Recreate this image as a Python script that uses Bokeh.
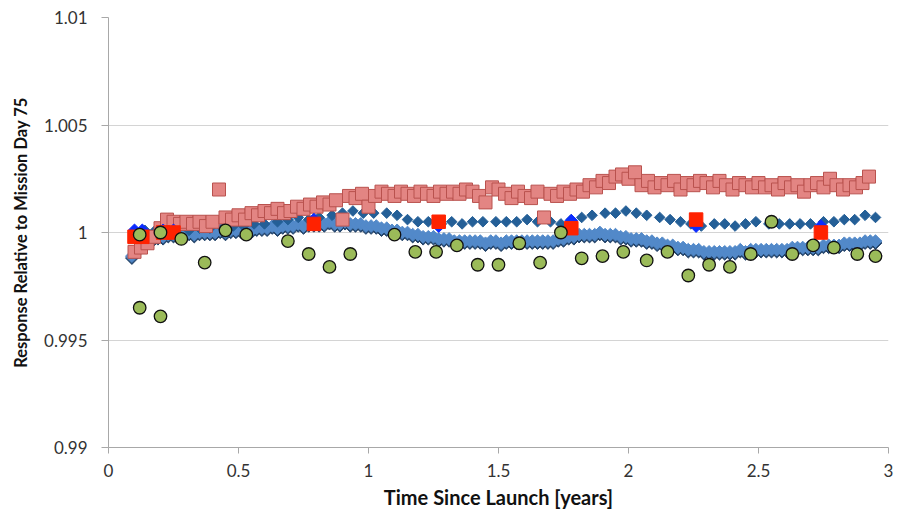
import math
from bokeh.plotting import figure
from bokeh.models import FixedTicker, Range1d
from bokeh.embed import file_html
from bokeh.resources import INLINE

# ---------------- data ----------------
x_ticks = [0, 0.5, 1, 1.5, 2, 2.5, 3]
x_tick_labels = ["0", "0.5", "1", "1.5", "2", "2.5", "3"]
y_ticks = [0.99, 0.995, 1.0, 1.005, 1.01]
y_tick_labels = ["0.99", "0.995", "1", "1.005", "1.01"]

# dense light-blue band
band_x = [0.09, 0.11, 0.13, 0.15, 0.17, 0.19, 0.21, 0.23, 0.25, 0.27, 0.29, 0.31, 0.33, 0.35, 0.37, 0.39,
          0.41, 0.43, 0.45, 0.47, 0.49, 0.51, 0.53, 0.55, 0.57, 0.59, 0.61, 0.63, 0.65, 0.67, 0.69, 0.71,
          0.73, 0.75, 0.77, 0.79, 0.81, 0.83, 0.85, 0.87, 0.89, 0.91, 0.93, 0.95, 0.97, 0.99, 1.01, 1.03,
          1.05, 1.07, 1.09, 1.11, 1.13, 1.15, 1.17, 1.19, 1.21, 1.23, 1.25, 1.27, 1.29, 1.31, 1.33, 1.35,
          1.37, 1.39, 1.41, 1.43, 1.45, 1.47, 1.49, 1.51, 1.53, 1.55, 1.57, 1.59, 1.61, 1.63, 1.65, 1.67,
          1.69, 1.71, 1.73, 1.75, 1.77, 1.79, 1.81, 1.83, 1.85, 1.87, 1.89, 1.91, 1.93, 1.95, 1.97, 1.99,
          2.01, 2.03, 2.05, 2.07, 2.09, 2.11, 2.13, 2.15, 2.17, 2.19, 2.21, 2.23, 2.25, 2.27, 2.29, 2.31,
          2.33, 2.35, 2.37, 2.39, 2.41, 2.43, 2.45, 2.47, 2.49, 2.51, 2.53, 2.55, 2.57, 2.59, 2.61, 2.63,
          2.65, 2.67, 2.69, 2.71, 2.73, 2.75, 2.77, 2.79, 2.81, 2.83, 2.85, 2.87, 2.89, 2.91, 2.93, 2.95]
band_y = [0.9989, 0.9992, 0.9995, 0.9996, 0.9997, 0.9998, 0.9998, 0.9999, 0.9999, 0.9999, 0.9999, 1.0000,
          0.9999, 1.0000, 1.0000, 1.0000, 1.0000, 1.0001, 1.0000, 1.0001, 1.0001, 1.0001, 1.0002, 1.0001,
          1.0002, 1.0002, 1.0002, 1.0003, 1.0002, 1.0003, 1.0003, 1.0003, 1.0004, 1.0003, 1.0004, 1.0004,
          1.0004, 1.0004, 1.0005, 1.0004, 1.0004, 1.0005, 1.0004, 1.0004, 1.0004, 1.0003, 1.0003, 1.0003,
          1.0002, 1.0002, 1.0001, 1.0001, 1.0000, 1.0000, 0.9999, 0.9999, 0.9998, 0.9998, 0.9998, 0.9997,
          0.9997, 0.9997, 0.9996, 0.9996, 0.9996, 0.9996, 0.9996, 0.9996, 0.9995, 0.9996, 0.9996, 0.9995,
          0.9996, 0.9996, 0.9996, 0.9996, 0.9996, 0.9996, 0.9996, 0.9996, 0.9996, 0.9996, 0.9997, 0.9997,
          0.9998, 0.9998, 0.9999, 0.9999, 0.9999, 0.9999, 1.0000, 0.9999, 0.9999, 0.9999, 0.9998, 0.9998,
          0.9997, 0.9997, 0.9997, 0.9996, 0.9996, 0.9995, 0.9995, 0.9994, 0.9994, 0.9993, 0.9993, 0.9992,
          0.9992, 0.9992, 0.9991, 0.9991, 0.9991, 0.9991, 0.9991, 0.9991, 0.9991, 0.9992, 0.9991, 0.9992,
          0.9992, 0.9992, 0.9992, 0.9992, 0.9992, 0.9992, 0.9992, 0.9993, 0.9993, 0.9993, 0.9993, 0.9993,
          0.9993, 0.9994, 0.9994, 0.9994, 0.9994, 0.9995, 0.9995, 0.9995, 0.9995, 0.9996, 0.9996, 0.9996,
          0.9997]

# dark-blue diamonds
dark_x = [0.10, 0.14, 0.18, 0.23, 0.27, 0.31, 0.35, 0.39, 0.44, 0.48, 0.52, 0.56, 0.60, 0.65, 0.69, 0.73,
          0.77, 0.81, 0.86, 0.90, 0.94, 0.98, 1.02, 1.07, 1.11, 1.15, 1.19, 1.23, 1.28, 1.32, 1.36, 1.40,
          1.44, 1.49, 1.53, 1.57, 1.61, 1.65, 1.70, 1.74, 1.78, 1.82, 1.86, 1.91, 1.95, 1.99, 2.03, 2.07,
          2.12, 2.16, 2.20, 2.24, 2.28, 2.33, 2.37, 2.41, 2.45, 2.49, 2.54, 2.58, 2.62, 2.66, 2.70, 2.75,
          2.79, 2.83, 2.87, 2.91, 2.95]
dark_y = [1.0000, 1.0001, 1.0001, 1.0001, 1.0002, 1.0001, 1.0002, 1.0002, 1.0002, 1.0003, 1.0003, 1.0004,
          1.0004, 1.0005, 1.0006, 1.0007, 1.0006, 1.0007, 1.0008, 1.0009, 1.0010, 1.0009, 1.0009, 1.0009,
          1.0008, 1.0006, 1.0005, 1.0005, 1.0004, 1.0005, 1.0004, 1.0005, 1.0005, 1.0005, 1.0005, 1.0005,
          1.0006, 1.0005, 1.0005, 1.0004, 1.0006, 1.0007, 1.0008, 1.0009, 1.0009, 1.0010, 1.0009, 1.0008,
          1.0007, 1.0006, 1.0005, 1.0004, 1.0003, 1.0004, 1.0004, 1.0003, 1.0004, 1.0005, 1.0004, 1.0004,
          1.0004, 1.0004, 1.0004, 1.0005, 1.0005, 1.0006, 1.0006, 1.0008, 1.0007]

# pink squares
pink_x = [0.100, 0.125, 0.150, 0.175, 0.200, 0.225, 0.250, 0.275, 0.300, 0.325, 0.350, 0.375, 0.400, 0.425,
          0.450, 0.475, 0.500, 0.525, 0.550, 0.575, 0.600, 0.625, 0.650, 0.675, 0.700, 0.725, 0.750, 0.775,
          0.800, 0.825, 0.850, 0.875, 0.900, 0.925, 0.950, 0.975, 1.000, 1.025, 1.050, 1.075, 1.100, 1.125,
          1.150, 1.175, 1.200, 1.225, 1.250, 1.275, 1.300, 1.325, 1.350, 1.375, 1.400, 1.425, 1.450, 1.475,
          1.500, 1.525, 1.550, 1.575, 1.600, 1.625, 1.650, 1.675, 1.700, 1.725, 1.750, 1.775, 1.800, 1.825,
          1.850, 1.875, 1.900, 1.925, 1.950, 1.975, 2.000, 2.025, 2.050, 2.075, 2.100, 2.125, 2.150, 2.175,
          2.200, 2.225, 2.250, 2.275, 2.300, 2.325, 2.350, 2.375, 2.400, 2.425, 2.450, 2.475, 2.500, 2.525,
          2.550, 2.575, 2.600, 2.625, 2.650, 2.675, 2.700, 2.725, 2.750, 2.775, 2.800, 2.825, 2.850, 2.875,
          2.900, 2.925]
pink_y = [0.9991, 0.9993, 0.9995, 0.9998, 1.0002, 1.0006, 1.0005, 1.0004, 1.0005, 1.0004, 1.0005, 1.0003,
          1.0005, 1.0020, 1.0007, 1.0006, 1.0008, 1.0006, 1.0009, 1.0008, 1.0010, 1.0009, 1.0011, 1.0009,
          1.0010, 1.0012, 1.0011, 1.0013, 1.0012, 1.0014, 1.0013, 1.0015, 1.0006, 1.0017, 1.0016, 1.0018,
          1.0012, 1.0017, 1.0019, 1.0018, 1.0017, 1.0019, 1.0018, 1.0017, 1.0019, 1.0018, 1.0017, 1.0019,
          1.0018, 1.0019, 1.0018, 1.0020, 1.0019, 1.0017, 1.0014, 1.0021, 1.0020, 1.0018, 1.0016, 1.0019,
          1.0017, 1.0016, 1.0019, 1.0007, 1.0018, 1.0017, 1.0019, 1.0018, 1.0020, 1.0019, 1.0022, 1.0021,
          1.0024, 1.0023, 1.0026, 1.0027, 1.0025, 1.0028, 1.0022, 1.0024, 1.0021, 1.0023, 1.0022, 1.0024,
          1.0020, 1.0023, 1.0022, 1.0024, 1.0023, 1.0021, 1.0024, 1.0022, 1.0020, 1.0023, 1.0022, 1.0021,
          1.0023, 1.0021, 1.0022, 1.0020, 1.0023, 1.0021, 1.0022, 1.0019, 1.0022, 1.0023, 1.0021, 1.0025,
          1.0022, 1.0020, 1.0022, 1.0021, 1.0023, 1.0026]

# bright blue diamonds and red squares (same dates)
marker_x = [0.10, 0.13, 0.21, 0.25, 0.79, 1.27, 1.78, 2.26, 2.74]
blue_y = [1.0001, 1.0001, 1.0001, 1.0001, 1.0006, 1.0003, 1.00055, 1.0003, 1.0003]
red_y = [0.9998, 0.9998, 1.0000, 1.0000, 1.0004, 1.0005, 1.0002, 1.0006, 1.0000]

# green circles
green_x = [0.12, 0.12, 0.20, 0.20, 0.28, 0.37, 0.45, 0.53, 0.69, 0.77, 0.85, 0.93, 1.10, 1.18, 1.26, 1.34,
           1.42, 1.50, 1.58, 1.66, 1.74, 1.82, 1.90, 1.98, 2.07, 2.15, 2.23, 2.31, 2.39, 2.47, 2.55, 2.63,
           2.71, 2.79, 2.88, 2.95]
green_y = [0.9999, 0.9965, 1.0000, 0.9961, 0.9997, 0.9986, 1.0001, 0.9999, 0.9996, 0.9990, 0.9984, 0.9990,
           0.9999, 0.9991, 0.9991, 0.9994, 0.9985, 0.9985, 0.9995, 0.9986, 1.0000, 0.9988, 0.9989, 0.9991,
           0.9987, 0.9991, 0.9980, 0.9985, 0.9984, 0.9990, 1.0005, 0.9990, 0.9994, 0.9993, 0.9990, 0.9989]

X_TITLE = "Time Since Launch [years]"
Y_TITLE = "Response Relative to Mission Day 75"

# ---------------- figure ----------------
FONT = "Lato"
p = figure(width=898, height=512, output_backend="svg", toolbar_location=None,
           x_range=Range1d(0, 3), y_range=Range1d(0.99, 1.01),
           min_border_left=108, min_border_right=10, min_border_top=17, min_border_bottom=65,
           background_fill_color="white", border_fill_color="white")
p.outline_line_color = None
p.xgrid.visible = False
p.ygrid.grid_line_color = "#d4d4d4"
p.ygrid.grid_line_width = 1
p.ygrid.ticker = FixedTicker(ticks=y_ticks)

for ax in (p.xaxis[0], p.yaxis[0]):
    ax.axis_line_color = "#a8a8a8"
    ax.major_tick_line_color = "#a8a8a8"
    ax.minor_tick_line_color = None
    ax.major_tick_in = 0
    ax.major_label_text_font = FONT
    ax.major_label_text_font_size = "17px"
    ax.major_label_text_color = "#333333"
    ax.axis_label_text_font = FONT
    ax.axis_label_text_font_style = "bold"
    ax.axis_label_text_color = "#111111"

p.xaxis.axis_label_text_font_size = "20px"
p.yaxis.axis_label_text_font_size = "16.5px"
p.xaxis.ticker = FixedTicker(ticks=x_ticks)
p.xaxis.major_label_overrides = {t: l for t, l in zip(x_ticks, x_tick_labels)}
p.yaxis.ticker = FixedTicker(ticks=y_ticks)
p.yaxis.major_label_overrides = {t: l for t, l in zip(y_ticks, y_tick_labels)}
p.xaxis.axis_label = X_TITLE
p.yaxis.axis_label = Y_TITLE
p.xaxis.major_tick_out = 6
p.xaxis.major_label_standoff = 10
p.xaxis.axis_label_standoff = 5
p.yaxis.major_tick_out = 7
p.yaxis.major_label_standoff = 14
p.yaxis.axis_label_standoff = 10

rot = math.pi / 4
shadow_dy = [y - 0.00009 for y in band_y]
p.scatter(band_x, shadow_dy, marker="square", size=9, angle=rot, color="#23446b")
p.scatter(band_x, band_y, marker="square", size=9, angle=rot, color="#5289c9")
p.scatter(dark_x, dark_y, marker="square", size=7.5, angle=rot, color="#245f97")
p.scatter(pink_x, pink_y, marker="square", size=13, fill_color="#e38583",
          line_color="#b9524e", line_width=1)
p.scatter(marker_x, blue_y, marker="square", size=9, angle=rot, color="#0a2bff")
p.scatter(marker_x, red_y, marker="square", size=13.5, color="#ff2200")
p.scatter(green_x, green_y, marker="circle", size=12.5, fill_color="#9bbb59",
          line_color="#111111", line_width=1.3)

open("out.html", "w").write(file_html(p, INLINE))
